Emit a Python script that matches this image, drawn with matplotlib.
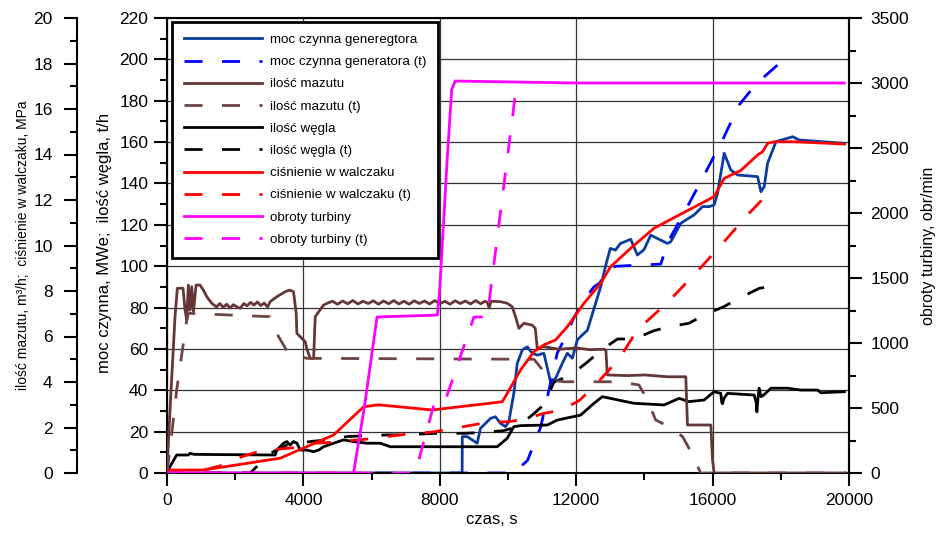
import numpy as np
import matplotlib
matplotlib.use("Agg")
import matplotlib.pyplot as plt
from matplotlib.ticker import MultipleLocator

plt.rcParams['font.family'] = ['Liberation Sans', 'DejaVu Sans']

# --- data (time in s) ---
# moc czynna generatora, MWe (inner left axis)
gen_t = [0, 8655, 8660, 8802, 9096, 9193, 9487, 9633, 9780, 9927, 10024, 10171, 10271, 10418,
         10565, 10712, 10858, 11052, 11249, 11396, 11592, 11739, 11886, 12033, 12130, 12327,
         12717, 12860, 13000, 13150, 13300, 13598, 13795, 13989, 14186, 14577, 14676, 14773,
         15067, 15214, 15458, 15704, 15898, 16045, 16145, 16339, 16535, 16732, 17320, 17417,
         17514, 17613, 17857, 18348, 18542, 19863]
gen_v = [0, 0, 17.6, 17.6, 14.4, 21.6, 26.4, 27.2, 24.0, 22.4, 24.8, 38.5, 53.0, 59.5,
         61.0, 57.9, 57.0, 57.9, 44.0, 45.8, 53.0, 57.9, 55.5, 64.3, 66.0, 69.0,
         90.0, 100.0, 108.6, 107.8, 111.0, 113.0, 105.4, 108.0, 115.0, 111.8, 111.0, 111.8,
         120.7, 122.3, 124.8, 128.8, 128.8, 129.6, 135.2, 154.6, 146.5, 144.1, 143.3, 136.0,
         138.5, 149.8, 160.2, 162.6, 161.0, 159.4]

gen_plan_t = [6100, 10160, 10570, 10955, 11445, 11600, 11930, 12230, 12520, 12700, 12900, 13200,
              14480, 14700, 15263, 15751, 16291, 16780, 17073, 17514, 17907]
gen_plan_v = [0, 0, 6, 22, 58, 63, 75, 83.7, 90, 92, 99, 100,
              101, 112, 128.8, 144, 161, 178, 184, 191.6, 197.3]

# ilość węgla, t/h (inner left axis)
coal_t = [0, 284, 626, 675, 800, 3172, 3221, 3417, 3515, 3610, 3710, 3810, 3906, 4103, 4297,
          4450, 4590, 4884, 5178, 5472, 5865, 6256, 6550, 9683, 9977, 10171, 10368, 11152,
          11445, 12130, 12521, 12767, 13695, 14577, 15017, 15311, 15751, 16045, 16241, 16270,
          16291, 16330, 16438, 17219, 17280, 17298, 17330, 17366, 17420, 17500, 17710, 18200,
          18591, 19081, 19178, 19863]
coal_v = [0.6, 8.7, 8.7, 9.5, 9.0, 8.7, 11.1, 14.4, 15.2, 13.5, 15.2, 14.4, 11.1, 11.1, 10.3,
          11.1, 12.7, 14.4, 16.0, 15.2, 14.4, 14.4, 12.7, 12.7, 16.8, 22.4, 22.9, 23.2,
          25.6, 28.0, 33.7, 36.9, 33.7, 32.9, 36.1, 34.5, 35.3, 39.3, 38.5, 34.0,
          33.5, 36.0, 38.5, 37.7, 34.0, 29.6, 36.0, 41.0, 36.9, 37.7, 41.0, 41.0,
          40.1, 40.1, 38.8, 39.3]

coal_plan_t = [0, 2440, 2730, 3120, 3515, 4200, 4690, 5280, 5765, 6450, 6840, 7920, 8700, 9190,
               9880, 10270, 10710, 11050, 11350, 11840, 12280, 12750, 13210, 13700, 14280,
               14720, 15310, 15750, 16340, 16780, 17370, 17810]
coal_plan_v = [0, 0, 4.7, 10.3, 13.5, 15.2, 16.0, 17.6, 18.0, 18.4, 18.4, 19.2, 19.2, 19.5,
               20.5, 22.4, 28.0, 33.0, 44.0, 47.4, 53.0, 59.5, 64.8, 64.8, 68.8,
               70.7, 72.4, 76.4, 80.5, 84.5, 89.3, 90.4]

# ilość mazutu, m3/h (outer left axis)
maz_t = [0, 88, 235, 303, 470, 529, 579, 626, 675, 725, 775, 852, 969, 1066, 1166, 1313,
         1450, 1550, 1650, 1750, 1850, 1950, 2050, 2150, 2250, 2350, 2450, 2550, 2650, 2750,
         2850, 2950, 3025, 3222, 3466, 3600, 3710, 3789, 3809, 3900, 4053, 4110, 4200, 4300,
         4347, 4450, 4590, 4700, 4850, 5000, 5150, 5300, 5450, 5600, 5750, 5900, 6050, 6200,
         6350, 6500, 6650, 6800, 6950, 7100, 7250, 7400, 7550, 7700, 7850, 8000, 8150, 8300,
         8450, 8600, 8750, 8900, 9050, 9200, 9330, 9390, 9450, 9500, 9780, 9977, 10124, 10221,
         10319, 10466, 10712, 10800, 10858, 11050, 11500, 12000, 12400, 12814, 12870, 12914,
         13500, 14000, 14676, 15214, 15263, 15948, 15998, 16045, 19900]
maz_v = [0.13, 2.77, 6.87, 8.12, 8.12, 7.16, 6.72, 8.26, 7.16, 8.19, 7.09, 8.26, 8.26, 8.04,
         7.75, 7.46, 7.30, 7.45, 7.28, 7.42, 7.25, 7.40, 7.30, 7.24, 7.45, 7.35, 7.50, 7.38,
         7.52, 7.36, 7.47, 7.30, 7.53, 7.75, 7.97, 8.04, 7.97, 7.02, 6.14, 6.00, 5.77, 5.41,
         5.04, 5.04, 6.87, 7.09, 7.38, 7.46, 7.55, 7.42, 7.56, 7.44, 7.58, 7.43, 7.55, 7.45,
         7.57, 7.42, 7.56, 7.44, 7.58, 7.43, 7.55, 7.42, 7.57, 7.45, 7.56, 7.43, 7.58, 7.44,
         7.55, 7.42, 7.57, 7.45, 7.56, 7.43, 7.58, 7.44, 7.55, 7.50, 7.25, 7.55, 7.53, 7.46,
         7.31, 6.87, 6.36, 6.58, 6.50, 6.36, 5.48, 5.55, 5.44, 5.50, 5.42, 5.44, 5.40, 4.31,
         4.28, 4.31, 4.23, 4.23, 2.11, 2.11, 0.57, 0.0, 0.0]

maz_plan_t = [0, 140, 284, 480, 580, 626, 3025, 3270, 3560, 4100, 10760, 10860, 11250, 11640,
              13250, 13840, 14090, 14330, 14720, 15120, 15360, 15650, 19900]
maz_plan_v = [0, 1.74, 3.65, 5.7, 6.72, 7.02, 6.87, 6.0, 5.26, 5.04, 5.0, 4.82, 4.09, 4.01,
              4.01, 3.87, 3.21, 2.33, 2.04, 1.6, 0.94, 0.0, 0.0]

# ciśnienie w walczaku, MPa (outer left axis)
pres_t = [0, 1066, 3319, 4884, 5765, 6159, 6256, 7774, 9830, 9977, 10368, 10759, 11052, 11396,
          11739, 12227, 12717, 13010, 13598, 14283, 16045, 16339, 16829, 17320, 17466, 17613,
          17808, 18395, 19863]
pres_v = [0.13, 0.13, 0.65, 1.67, 2.91, 2.99, 2.99, 2.77, 3.13, 3.5, 4.53, 5.33, 5.63, 5.85,
          6.43, 7.46, 8.34, 9.07, 9.88, 10.76, 12.15, 12.95, 13.3, 13.98, 14.12, 14.49,
          14.56, 14.56, 14.46]

pres_plan_t = [0, 1000, 1650, 2200, 2680, 3270, 3710, 4200, 4880, 5570, 6060, 6650, 7190, 7720,
               8260, 8850, 9490, 10020, 10560, 11050, 11590, 12100, 12520, 13250, 13800,
               14680, 15500, 16240, 16980, 17760]
pres_plan_v = [0, 0.1, 0.35, 0.72, 0.94, 1.05, 1.11, 1.3, 1.35, 1.45, 1.52, 1.64, 1.74, 1.79,
               1.92, 2.08, 2.25, 2.25, 2.4, 2.62, 2.77, 3.2, 3.8, 5.0, 6.3,
               7.5, 8.78, 10.0, 11.27, 12.5]

# obroty turbiny, obr/min (right axis)
rpm_t = [0, 5470, 5790, 6160, 7930, 8000, 8215, 8350, 8450, 12000, 19860]
rpm_v = [0, 0, 510, 1200, 1215, 1420, 2408, 2950, 3015, 3000, 3000]

rpm_plan_t = [0, 7280, 7810, 8100, 9000, 9390, 10220]
rpm_plan_v = [0, 0, 510, 510, 1200, 1200, 2920]

labels = ['moc czynna generegtora', 'moc czynna generatora (t)',
          'ilość mazutu', 'ilość mazutu (t)',
          'ilość węgla', 'ilość węgla (t)',
          'ciśnienie w walczaku', 'ciśnienie w walczaku (t)',
          'obroty turbiny', 'obroty turbiny (t)']

c_gen, c_gen_t = '#0b3d9c', '#0000ff'
c_maz, c_maz_t = '#663636', '#6e4444'
dash = (0, (6.5, 7))
lw = 2.0

fig = plt.figure(figsize=(9.38, 5.35), dpi=100)
ax = fig.add_axes([167 / 938, 1 - 473 / 535, (849 - 167) / 938, (473 - 18) / 535])
ax_out = ax.twinx()
ax_r = ax.twinx()

# inner left axis
h1, = ax.plot(gen_t, gen_v, color=c_gen, lw=lw)
h2, = ax.plot(gen_plan_t, gen_plan_v, color=c_gen_t, lw=lw, ls=dash)
h5, = ax.plot(coal_t, coal_v, color='black', lw=lw)
h6, = ax.plot(coal_plan_t, coal_plan_v, color='black', lw=lw, ls=dash)
# outer left axis
h3, = ax_out.plot(maz_t, maz_v, color=c_maz, lw=lw)
h4, = ax_out.plot(maz_plan_t, maz_plan_v, color=c_maz_t, lw=lw, ls=dash)
h7, = ax_out.plot(pres_t, pres_v, color='#ff0000', lw=lw)
h8, = ax_out.plot(pres_plan_t, pres_plan_v, color='#ff0000', lw=lw, ls=dash)
# right axis
h9, = ax_r.plot(rpm_t, rpm_v, color='#ff00ff', lw=lw)
h10, = ax_r.plot(rpm_plan_t, rpm_plan_v, color='#ff00ff', lw=lw, ls=dash)

ax.set_xlim(0, 20000)
ax.set_ylim(0, 220)
ax_out.set_ylim(0, 20)
ax_r.set_ylim(0, 3500)

ax.xaxis.set_major_locator(MultipleLocator(4000))
ax.xaxis.set_minor_locator(MultipleLocator(2000))
ax.yaxis.set_major_locator(MultipleLocator(20))
ax.yaxis.set_minor_locator(MultipleLocator(10))
ax_out.yaxis.set_major_locator(MultipleLocator(2))
ax_out.yaxis.set_minor_locator(MultipleLocator(1))
ax_r.yaxis.set_major_locator(MultipleLocator(500))
ax_r.yaxis.set_minor_locator(MultipleLocator(250))

ax.grid(True, which='major', color='#333333', lw=0.9)

# outer axis on the far left (90 px from the inner one)
ax_out.yaxis.set_ticks_position('left')
ax_out.yaxis.set_label_position('left')
ax_out.spines['left'].set_position(('outward', 64.8))
for s in ['top', 'right', 'bottom']:
    ax_out.spines[s].set_visible(False)
for s in ['top', 'left', 'bottom']:
    ax_r.spines[s].set_visible(False)

for a in (ax, ax_out, ax_r):
    for s in a.spines.values():
        s.set_linewidth(1.5)
    a.tick_params(which='major', direction='out', length=9.5, width=1.5, labelsize=12.5, pad=4)
    a.tick_params(which='minor', direction='out', length=5, width=1.5)
ax_out.tick_params(axis='y', which='both', pad=8)
ax_r.tick_params(axis='y', which='both', pad=6)
ax.tick_params(axis='x', which='both', pad=5)

ax.set_xlabel('czas, s', fontsize=12)
ax.xaxis.set_label_coords(0.476, -0.085)
ax.set_ylabel('moc czynna, MWe;  ilość węgla, t/h', fontsize=12)
ax.yaxis.set_label_coords(-0.081, 0.505)
ax_out.set_ylabel('ilość mazutu, m³/h;  ciśnienie w walczaku, MPa', fontsize=10)
ax_out.yaxis.set_label_coords(-0.201, 0.5)
ax_r.set_ylabel('obroty turbiny, obr/min', fontsize=11.5)
ax_r.yaxis.set_label_coords(1.106, 0.5)

handles = [h1, h2, h3, h4, h5, h6, h7, h8, h9, h10]
leg = ax_r.legend(handles, labels, loc='upper left', bbox_to_anchor=(0.007, 0.992),
                  borderaxespad=0, fontsize=9.6, handlelength=5.85, handletextpad=0.6,
                  labelspacing=0.74, fancybox=False, framealpha=1, edgecolor='black',
                  borderpad=0.9)
leg.get_frame().set_linewidth(2.0)
leg.set_zorder(20)

fig.savefig('out.png', dpi=100)
